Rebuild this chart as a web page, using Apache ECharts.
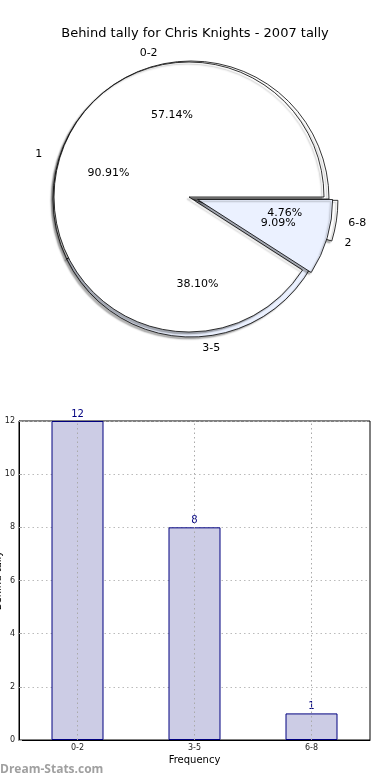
<!DOCTYPE html>
<html>
<head>
<meta charset="utf-8">
<script src="https://cdn.jsdelivr.net/npm/echarts@6/dist/echarts.min.js"></script>
<style>
html,body{margin:0;padding:0;background:#fff;}
#c{width:390px;height:780px;}
</style>
</head>
<body>
<div id="c"></div>
<script>
// Data
const titleText = 'Behind tally for Chris Knights - 2007 tally';
const outerNames = ['0-2', '3-5', '6-8'];
const outerValues = [12, 8, 1];
const innerNames = ['1', '2'];
const innerValues = [10, 1];
const barCategories = ['0-2', '3-5', '6-8'];
const barValues = [12, 8, 1];
const yTicks = [0, 2, 4, 6, 8, 10, 12];
const xAxisName = 'Frequency';
const yAxisName = 'Behind tally';
const watermark = 'Dream-Stats.com';

const FONT = 'DejaVu Sans';
const LIGHT = '#ebf1ff';
const outerColors = ['#ffffff', LIGHT, '#ffffff'];
const innerColors = ['#ffffff', LIGHT];
const explodedOuter = ['6-8'];
const explodedInner = ['2'];

const chart = echarts.init(document.getElementById('c'), null, {renderer: 'canvas'});

const OC = [191, 199], OR = 138;
const IC = [189, 197], IR = 135;

function pieData(names, values, colors, exploded, transparent) {
  return names.map((n, i) => ({
    name: n,
    value: values[i],
    selected: exploded.indexOf(n) >= 0,
    itemStyle: transparent ? {color: 'rgba(0,0,0,0)', borderWidth: 0, shadowBlur: 0} : {color: colors[i]}
  }));
}

function pieSeries(center, r, names, values, colors, exploded, lineLen) {
  return {
    type: 'pie',
    center: center,
    radius: r,
    startAngle: 0,
    clockwise: false,
    avoidLabelOverlap: false,
    selectedMode: 'multiple',
    selectedOffset: 9,
    animation: false,
    emphasis: {disabled: true, scale: false},
    select: {itemStyle: {borderColor: '#000', borderWidth: 0.8}},
    itemStyle: {
      borderColor: '#000', borderWidth: 0.8,
      shadowColor: 'rgba(0,0,0,0.3)', shadowBlur: 1.5, shadowOffsetX: -2, shadowOffsetY: 2
    },
    label: {
      show: true, position: 'outside', formatter: '{b}',
      fontFamily: FONT, fontSize: 11, color: '#000', distanceToLabelLine: 0
    },
    labelLine: {show: false, length: lineLen, length2: 0},
    labelLayout: {hideOverlap: false},
    data: pieData(names, values, colors, exploded, false)
  };
}

function pctSeries(center, r, names, values, exploded) {
  return {
    type: 'pie',
    center: center,
    radius: r * 1.2,
    startAngle: 0,
    clockwise: false,
    avoidLabelOverlap: false,
    selectedMode: 'multiple',
    selectedOffset: 9,
    silent: true,
    animation: false,
    emphasis: {disabled: true},
    select: {itemStyle: {color: 'rgba(0,0,0,0)', borderWidth: 0}},
    itemStyle: {color: 'rgba(0,0,0,0)', borderWidth: 0},
    label: {show: true, position: 'inside', formatter: p => p.percent.toFixed(2) + '%',
      fontFamily: FONT, fontSize: 11, color: '#000'},
    labelLine: {show: false},
    labelLayout: {hideOverlap: false},
    data: pieData(names, values, null, exploded, true)
  };
}

const option = {
  animation: false,
  backgroundColor: '#fff',
  title: {
    text: titleText, left: 'center', top: 22,
    textStyle: {fontFamily: FONT, fontSize: 13, fontWeight: 'normal', color: '#000'}
  },
  graphic: [{
    type: 'text', left: 0, top: 764,
    style: {text: watermark, font: 'bold 12px "Open Sans"', fill: '#a0a0a0'}
  }],
  grid: {left: 19, right: 20, top: 421, bottom: 40, outerBoundsMode: 'none', containLabel: false,
    show: true, borderColor: '#000', borderWidth: 1, backgroundColor: 'transparent'},
  xAxis: {
    type: 'category', data: barCategories,
    name: xAxisName, nameLocation: 'middle', nameGap: 15,
    nameTextStyle: {fontFamily: FONT, fontSize: 10, color: '#000'},
    axisLine: {lineStyle: {color: '#000', width: 1}},
    axisTick: {show: true, alignWithLabel: true, inside: true, length: 3, lineStyle: {color: '#aaa'}},
    axisLabel: {fontFamily: FONT, fontSize: 8, color: '#222', margin: 4},
    splitLine: {show: false}
  },
  yAxis: {
    type: 'value', min: 0, max: 12, interval: 2,
    name: yAxisName, nameLocation: 'middle', nameGap: 16, nameRotate: 90, nameMoveOverlap: false,
    nameTextStyle: {fontFamily: FONT, fontSize: 10, color: '#000'},
    axisLine: {show: true, lineStyle: {color: '#000', width: 1}},
    axisTick: {show: true, inside: true, length: 3, lineStyle: {color: '#aaa'}},
    axisLabel: {fontFamily: FONT, fontSize: 8, color: '#222', margin: 4,
      formatter: v => (yTicks.indexOf(v) >= 0 ? String(v) : '')},
    splitLine: {show: true, lineStyle: {color: '#bbb', type: [1.5, 3], width: 1}}
  },
  series: [
    pieSeries(OC, OR, outerNames, outerValues, outerColors, explodedOuter, 12),
    pieSeries(IC, IR, innerNames, innerValues, innerColors, explodedInner, 18),
    pctSeries(OC, OR, outerNames, outerValues, explodedOuter),
    pctSeries(IC, IR, innerNames, innerValues, explodedInner),
    {
      type: 'bar', data: barValues, barWidth: 52, z: 3,
      itemStyle: {color: '#ccccE5', borderColor: '#000080', borderWidth: 1},
      label: {show: true, position: 'top', distance: 2, fontFamily: FONT, fontSize: 10, color: '#000080'},
      emphasis: {disabled: true},
      markLine: {
        silent: true, symbol: 'none', label: {show: false}, animation: false, z: 4,
        lineStyle: {color: '#aaa', type: [1.5, 3], width: 1},
        emphasis: {disabled: true},
        data: barCategories.map(c => ({xAxis: c}))
      }
    }
  ]
};
chart.setOption(option);
</script>
</body>
</html>
